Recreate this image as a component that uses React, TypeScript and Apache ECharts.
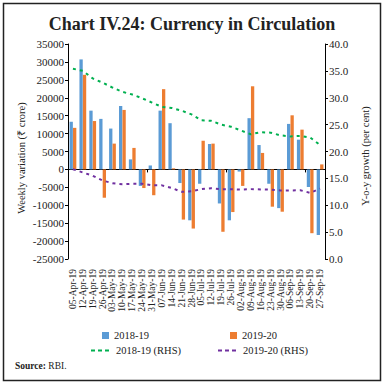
import React, { useEffect, useRef } from "react";
import * as echarts from "echarts";

const categories = [
  "05-Apr-19", "12-Apr-19", "19-Apr-19", "26-Apr-19", "03-May-19", "10-May-19", "17-May-19",
  "24-May-19", "31-May-19", "07-Jun-19", "14-Jun-19", "21-Jun-19", "28-Jun-19", "05-Jul-19",
  "12-Jul-19", "19-Jul-19", "26-Jul-19", "02-Aug-19", "09-Aug-19", "16-Aug-19", "23-Aug-19",
  "30-Aug-19", "06-Sep-19", "13-Sep-19", "20-Sep-19", "27-Sep-19",
];

const weekly1819 = [
  13300, 30700, 16400, 14100, 11400, 17700, 2800, -4600, 1100, 16400, 12900, -3800, -14200,
  -4000, 7100, -9500, -14200, -600, 14300, 6800, -4000, -10800, 12700, 8300, -4900, -18300,
];
const weekly1920 = [
  11600, 26400, 13500, -7900, 7200, 16600, 6000, -5200, -7200, 22400, 300, -14000, -16500,
  8000, 7200, -17400, -11900, -4600, 23200, 4600, -10400, -11800, 15100, 11100, -17800, 1400,
];
const yoy1819 = [
  35.4, 35.0, 33.6, 32.8, 31.9, 31.1, 30.6, 29.9, 29.1, 28.3, 28.1, 27.6, 26.9,
  25.8, 25.7, 25.0, 24.6, 23.9, 23.2, 23.6, 23.5, 23.0, 22.8, 22.9, 22.6, 21.2,
];
const yoy1920 = [
  16.7, 16.1, 15.5, 14.6, 14.1, 13.9, 14.0, 14.0, 13.7, 13.7, 13.2, 12.5, 12.6,
  13.0, 13.15, 13.0, 13.0, 12.9, 13.0, 12.95, 12.9, 12.75, 12.75, 12.8, 12.3, 13.1,
];

const FONT = "Liberation Serif";
const BLUE = "#5B9BD5";
const ORANGE = "#ED7D31";
const GREEN = "#00B050";
const PURPLE = "#7030A0";

export default function App() {
  const ref = useRef<HTMLDivElement>(null);
  useEffect(() => {
    if (!ref.current) return;
    const chart = echarts.init(ref.current, undefined, { renderer: "svg" });
    const txt = { fontFamily: FONT, color: "#222" };
    const legendBase = {
      orient: "horizontal",
      textStyle: { ...txt, fontSize: 10.5 },
      itemGap: 0,
      padding: 0,
    };
    chart.setOption({
      animation: false,
      backgroundColor: "#fff",
      textStyle: { fontFamily: FONT },
      title: {
        text: "Chart IV.24: Currency in Circulation",
        left: "center",
        top: 10,
        textStyle: { fontFamily: FONT, fontWeight: "bold", fontSize: 18, color: "#222" },
      },
      grid: { left: 68, right: 59, top: 44, bottom: 126, containLabel: false },
      legend: [
        { ...legendBase, data: [{ name: "2018-19", icon: "rect" }], left: 102, top: 330, itemWidth: 7, itemHeight: 7 },
        { ...legendBase, data: [{ name: "2019-20", icon: "rect" }], left: 230, top: 330, itemWidth: 7, itemHeight: 7 },
        {
          ...legendBase, data: ["2018-19 (RHS)"], left: 90, top: 345, itemWidth: 20, itemHeight: 8,
          itemStyle: { opacity: 0 }, lineStyle: { type: [4, 3], width: 2 },
        },
        {
          ...legendBase, data: ["2019-20 (RHS)"], left: 217, top: 345, itemWidth: 20, itemHeight: 8,
          itemStyle: { opacity: 0 }, lineStyle: { type: [4, 3], width: 2 },
        },
      ],
      xAxis: [
        {
          type: "category",
          data: categories,
          position: "bottom",
          axisLine: { show: false },
          axisTick: { show: false },
          axisLabel: { rotate: 90, fontSize: 9.5, margin: 10, interval: 0, ...txt },
        },
        {
          type: "category",
          data: categories,
          position: "bottom",
          axisLine: { show: true, onZero: true, onZeroAxisIndex: 0, lineStyle: { color: "#000", width: 1 } },
          axisTick: { show: true, length: 3, lineStyle: { color: "#000" } },
          axisLabel: { show: false },
        },
      ],
      yAxis: [
        {
          type: "value",
          min: -25000,
          max: 35000,
          interval: 5000,
          axisLine: { show: true, lineStyle: { color: "#000" } },
          axisTick: { show: true, length: 3, lineStyle: { color: "#000" } },
          axisLabel: { fontSize: 11, margin: 4, formatter: (v: number) => String(v), ...txt },
          splitLine: { show: false },
        },
        {
          type: "value",
          min: 0,
          max: 40,
          interval: 5,
          position: "right",
          axisLine: { show: true, lineStyle: { color: "#000" } },
          axisTick: { show: true, length: 3, lineStyle: { color: "#000" } },
          axisLabel: { fontSize: 11, margin: 4, formatter: (v: number) => v.toFixed(1), ...txt },
          splitLine: { show: false },
        },
      ],
      series: [
        {
          name: "2018-19",
          type: "bar",
          data: weekly1819,
          xAxisIndex: 0,
          yAxisIndex: 0,
          barWidth: 3.3,
          barGap: "5%",
          itemStyle: { color: BLUE },
        },
        {
          name: "2019-20",
          type: "bar",
          data: weekly1920,
          xAxisIndex: 0,
          yAxisIndex: 0,
          barWidth: 3.3,
          barGap: "5%",
          itemStyle: { color: ORANGE },
        },
        {
          name: "2018-19 (RHS)",
          type: "line",
          data: yoy1819,
          xAxisIndex: 0,
          yAxisIndex: 1,
          symbol: "none",
          lineStyle: { color: GREEN, width: 2, type: [3, 4] },
          itemStyle: { color: GREEN },
        },
        {
          name: "2019-20 (RHS)",
          type: "line",
          data: yoy1920,
          xAxisIndex: 0,
          yAxisIndex: 1,
          symbol: "none",
          lineStyle: { color: PURPLE, width: 2, type: [3, 4] },
          itemStyle: { color: PURPLE },
        },
      ],
      graphic: [
        {
          type: "rect",
          shape: { x: 3.5, y: 3.5, width: 377, height: 377 },
          style: { fill: "none", stroke: "#222", lineWidth: 1.5 },
          silent: true,
        },
        {
          type: "text",
          x: 21,
          y: 158,
          rotation: Math.PI / 2,
          style: {
            text: "Weekly variation (₹ crore)",
            fontFamily: FONT,
            fontSize: 10.5,
            fill: "#222",
            align: "center",
            verticalAlign: "middle",
          },
        },
        {
          type: "text",
          x: 365,
          y: 156,
          rotation: Math.PI / 2,
          style: {
            text: "Y-o-y growth (per cent)",
            fontFamily: FONT,
            fontSize: 10.5,
            fill: "#222",
            align: "center",
            verticalAlign: "middle",
          },
        },
        {
          type: "text",
          left: 15,
          top: 361,
          style: {
            text: "{b|Source:} RBI.",
            rich: { b: { fontWeight: "bold", fontFamily: FONT, fontSize: 9.5, fill: "#222" } },
            fontFamily: FONT,
            fontSize: 9.5,
            fill: "#222",
          },
        },
      ],
    });
    return () => chart.dispose();
  }, []);
  return (
    <div
      ref={ref}
      style={{ position: "fixed", left: 0, top: 0, width: 384, height: 385, background: "#fff" }}
    />
  );
}
